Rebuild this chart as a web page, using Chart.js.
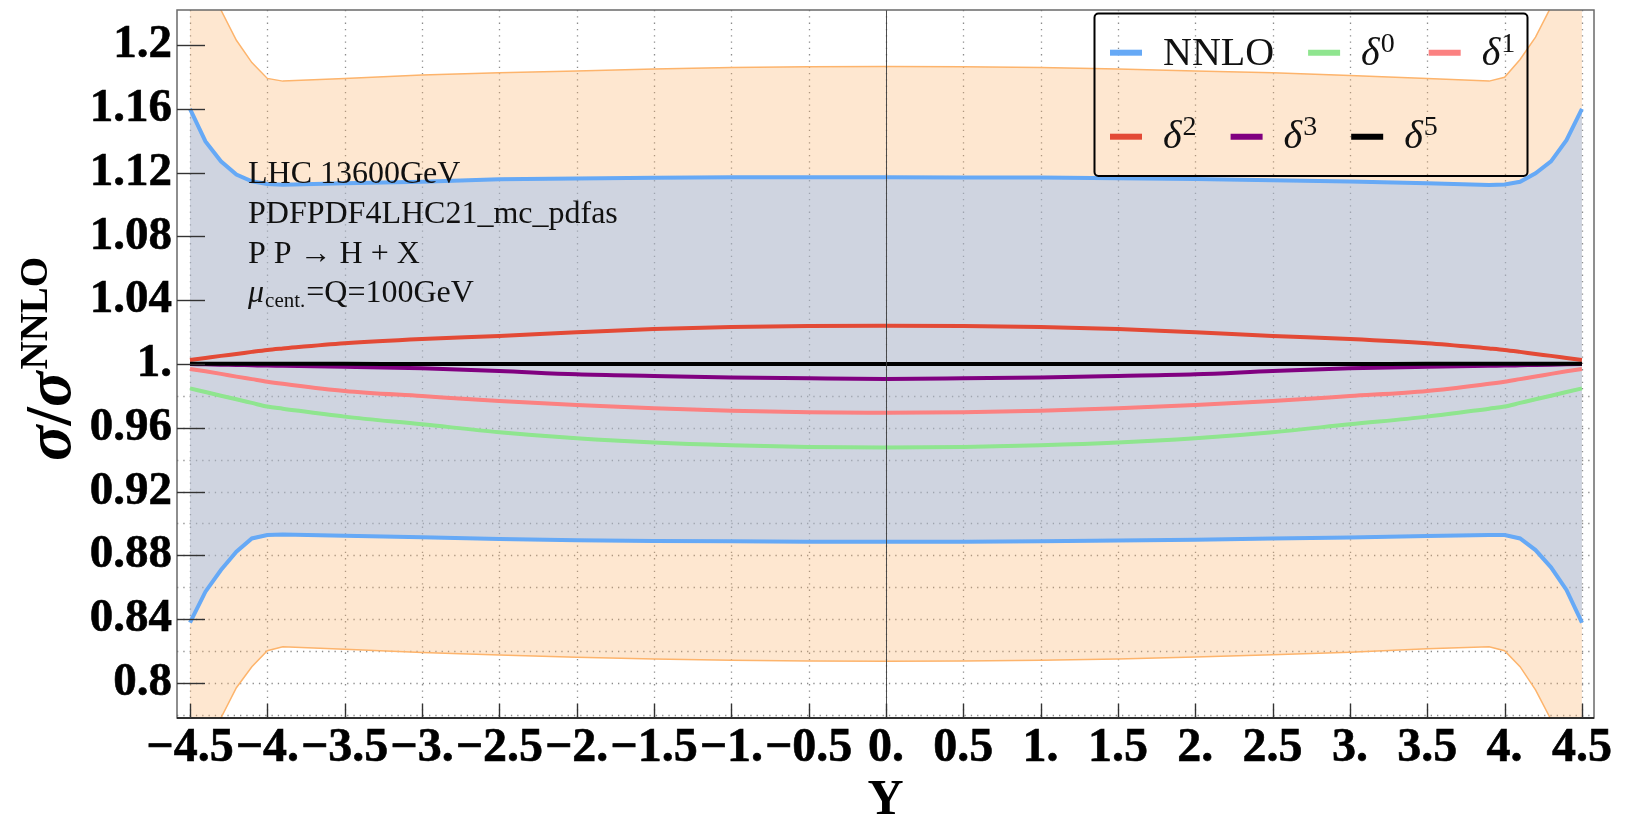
<!DOCTYPE html>
<html><head><meta charset="utf-8">
<script src="https://cdn.jsdelivr.net/npm/chart.js@4.4.0/dist/chart.umd.min.js"></script>
<style>html,body{margin:0;padding:0;background:#fff;overflow:hidden}</style>
</head><body>
<canvas id="c" width="1640" height="821"></canvas>
<script>
// ---------------- data ----------------
const rapidity = [-4.5,-4.4,-4.3,-4.2,-4.1,-4.0,-3.9,-3.5,-3.0,-2.5,-2.0,-1.5,-1.0,-0.5,0.0,0.5,1.0,1.5,2.0,2.5,3.0,3.5,3.9,4.0,4.1,4.2,4.3,4.4,4.5];
const scaleBandUp   = [1.280,1.248,1.222,1.203,1.189,1.1791,1.1774,1.1791,1.1812,1.1827,1.1837,1.1850,1.1860,1.1864,1.1865,1.1864,1.1860,1.1850,1.1838,1.1826,1.1810,1.1790,1.1774,1.1798,1.191,1.205,1.224,1.250,1.280];
const scaleBandDown = [0.720,0.752,0.778,0.797,0.8101,0.8202,0.8227,0.8211,0.8190,0.8175,0.8161,0.8150,0.8142,0.8137,0.8136,0.8137,0.8142,0.8150,0.8162,0.8176,0.8192,0.8215,0.8227,0.8202,0.8102,0.7956,0.777,0.752,0.720];
const nnloUp   = [1.1600,1.1396,1.1271,1.1188,1.1146,1.1129,1.1124,1.1133,1.1143,1.1158,1.1164,1.1168,1.1171,1.1171,1.1171,1.1170,1.1169,1.1165,1.1160,1.1152,1.1145,1.1133,1.1122,1.1126,1.1143,1.1196,1.1271,1.1404,1.1600];
const nnloDown = [0.8378,0.8572,0.8708,0.8823,0.8906,0.8928,0.8930,0.8923,0.8913,0.8903,0.8894,0.8890,0.8888,0.8885,0.8885,0.8886,0.8889,0.8893,0.8898,0.8905,0.8912,0.8921,0.8928,0.8928,0.8906,0.8833,0.8725,0.8583,0.8378];
const nnloCentral = [1,1,1,1,1,1,1,1,1,1,1,1,1,1,1,1,1,1,1,1,1,1,1,1,1,1,1,1,1];
const delta0 = [0.9847,0.9824,0.9801,0.9779,0.9756,0.9733,0.9720,0.9670,0.9622,0.9572,0.9534,0.9507,0.9490,0.9480,0.9477,0.9480,0.9490,0.9507,0.9534,0.9572,0.9622,0.9670,0.9720,0.9733,0.9756,0.9779,0.9801,0.9824,0.9847];
const delta1 = [0.9969,0.9954,0.9938,0.9921,0.9905,0.9889,0.9876,0.9831,0.9799,0.9768,0.9743,0.9722,0.9707,0.9697,0.9695,0.9697,0.9707,0.9722,0.9743,0.9768,0.9799,0.9831,0.9876,0.9889,0.9905,0.9921,0.9938,0.9954,0.9969];
const delta2 = [1.0025,1.0038,1.0051,1.0063,1.0076,1.0088,1.0097,1.0130,1.0157,1.0176,1.0199,1.0219,1.0232,1.0238,1.0240,1.0238,1.0232,1.0219,1.0199,1.0176,1.0157,1.0130,1.0097,1.0088,1.0076,1.0063,1.0051,1.0038,1.0025];
const delta3 = [1.0000,0.9998,0.9996,0.9994,0.9992,0.9990,0.9989,0.9983,0.9973,0.9956,0.9935,0.9925,0.9916,0.9910,0.9906,0.9910,0.9916,0.9925,0.9935,0.9956,0.9973,0.9983,0.9989,0.9990,0.9992,0.9994,0.9996,0.9998,1.0000];
const delta5 = [1.0002,1.0002,1.0002,1.0001,1.0001,1.0001,1.0001,1.0001,1.0000,1.0000,1.0000,1.0000,1.0000,1.0000,1.0000,1.0000,1.0000,1.0000,1.0000,1.0000,1.0000,1.0001,1.0001,1.0001,1.0001,1.0001,1.0002,1.0002,1.0002];

const xTickValues = [-4.5,-4,-3.5,-3,-2.5,-2,-1.5,-1,-0.5,0,0.5,1,1.5,2,2.5,3,3.5,4,4.5];
const xTickLabels = ['\u22124.5','\u22124.','\u22123.5','\u22123.','\u22122.5','\u22122.','\u22121.5','\u22121.','\u22120.5','0.','0.5','1.','1.5','2.','2.5','3.','3.5','4.','4.5'];
const yTickValues = [0.8,0.84,0.88,0.92,0.96,1.0,1.04,1.08,1.12,1.16,1.2];
const yTickLabels = ['0.8','0.84','0.88','0.92','0.96','1.','1.04','1.08','1.12','1.16','1.2'];

const legendNames  = ['NNLO','\u03b4^0','\u03b4^1','\u03b4^2','\u03b4^3','\u03b4^5'];
const legendColors = ['#66a9f6','#8fe58f','#fb8181','#e34a36','#800080','#000000'];
const infoLines = ['LHC 13600GeV','PDFPDF4LHC21_mc_pdfas','P P \u2192 H + X'];

// ---------------- chart ----------------
const SERIF = "'Liberation Serif','Times New Roman',serif";
const pts = arr => rapidity.map((x,i)=>({x:x,y:arr[i]}));

const decor = {
  id:'decor',
  beforeDatasetsDraw(chart){
    const {ctx, chartArea:a, scales:{x,y}} = chart;
    ctx.save();
    ctx.strokeStyle='rgba(120,120,120,0.85)'; ctx.lineWidth=1.3; ctx.setLineDash([1.3,5]);
    x.ticks.forEach(t=>{
      const px=Math.round(x.getPixelForValue(t.value))+0.5;
      ctx.beginPath(); ctx.moveTo(px,a.top); ctx.lineTo(px,a.bottom); ctx.stroke();
    });
    y.ticks.forEach(t=>{
      if (t.value<=0.981){
        const py=Math.round(y.getPixelForValue(t.value))+0.5;
        ctx.beginPath(); ctx.moveTo(a.left,py); ctx.lineTo(a.right,py); ctx.stroke();
      }
    });
    ctx.restore();
  },
  afterDatasetsDraw(chart){
    const {ctx, chartArea:a, scales:{x,y}} = chart;
    ctx.save();
    // vertical axis at Y=0
    const x0=Math.round(x.getPixelForValue(0))+0.5;
    ctx.strokeStyle='rgba(60,60,60,0.9)'; ctx.lineWidth=1;
    ctx.beginPath(); ctx.moveTo(x0,a.top); ctx.lineTo(x0,a.bottom); ctx.stroke();
    // frame
    ctx.strokeStyle='#6a6a6a'; ctx.lineWidth=1.5;
    ctx.strokeRect(a.left,a.top,a.right-a.left,a.bottom-a.top);
    ctx.strokeStyle='#111'; ctx.beginPath(); ctx.moveTo(a.left,a.bottom); ctx.lineTo(a.right,a.bottom); ctx.stroke();
    // tick marks (inside)
    ctx.strokeStyle='#333'; ctx.lineWidth=1.4;
    yTickValues.forEach(v=>{const py=Math.round(y.getPixelForValue(v))+0.5;
      ctx.beginPath(); ctx.moveTo(a.left,py); ctx.lineTo(a.left+28,py); ctx.stroke();});
    xTickValues.forEach(v=>{const px=Math.round(x.getPixelForValue(v))+0.5;
      ctx.beginPath(); ctx.moveTo(px,a.bottom); ctx.lineTo(px,a.bottom-14); ctx.stroke();});

    // info text
    ctx.fillStyle='#111'; ctx.textBaseline='alphabetic'; ctx.textAlign='left';
    ctx.font='32px '+SERIF;
    const bl=[183,222.7,263,301.7];
    infoLines.forEach((s,i)=>ctx.fillText(s,248,bl[i]));
    ctx.font='italic 32px '+SERIF; ctx.fillText('\u03bc',248,bl[3]);
    let w=ctx.measureText('\u03bc').width;
    ctx.font='21px '+SERIF; ctx.fillText('cent.',248+w+1,bl[3]+5);
    let w2=ctx.measureText('cent.').width;
    ctx.font='32px '+SERIF; ctx.fillText('=Q=100GeV',248+w+1+w2+1,bl[3]);

    // legend
    ctx.lineWidth=2; ctx.strokeStyle='#000';
    ctx.beginPath(); ctx.roundRect(1094.5,13.5,433,162.5,4); ctx.stroke();
    const rows=[[0,1,2],[3,4,5]], rowBase=[65,148], rowMid=[52.7,136.7];
    rows.forEach((r,ri)=>{
      let sx=1110;
      r.forEach(k=>{
        ctx.strokeStyle=legendColors[k]; ctx.lineWidth=6; ctx.lineCap='butt';
        ctx.beginPath(); ctx.moveTo(sx,rowMid[ri]); ctx.lineTo(sx+32,rowMid[ri]); ctx.stroke();
        let tx=sx+32+21;
        const parts=legendNames[k].split('^');
        ctx.fillStyle='#111';
        if(parts.length===1){ ctx.font='40px '+SERIF; ctx.fillText(parts[0],tx,rowBase[ri]); tx+=ctx.measureText(parts[0]).width; }
        else { ctx.font='italic 40px '+SERIF; ctx.fillText(parts[0],tx,rowBase[ri]); tx+=ctx.measureText(parts[0]).width+1;
               ctx.font='28px '+SERIF; ctx.fillText(parts[1],tx,rowBase[ri]-13); tx+=ctx.measureText(parts[1]).width; }
        sx=tx+34;
      });
    });

    // y axis title  sigma/sigma^NNLO (rotated)
    ctx.save();
    ctx.translate(70,461); ctx.rotate(-Math.PI/2);
    ctx.fillStyle='#000';
    let p=0;
    ctx.font='italic bold 66px '+SERIF; ctx.fillText('\u03c3',p,0); p+=ctx.measureText('\u03c3').width;
    ctx.font='bold 66px '+SERIF; ctx.fillText('/',p,0); p+=ctx.measureText('/').width;
    ctx.font='italic bold 66px '+SERIF; ctx.fillText('\u03c3',p,0); p+=ctx.measureText('\u03c3').width+2;
    ctx.font='bold 39px '+SERIF; ctx.fillText('NNLO',p,-23);
    ctx.restore();
    ctx.restore();
  }
};

const lineDs = (label,arr,color,width,order,extra)=>Object.assign({
  label, data:pts(arr), borderColor:color, borderWidth:width, pointRadius:0,
  fill:false, order, tension:0
}, extra||{});

new Chart(document.getElementById('c'),{
  type:'line',
  data:{datasets:[
    lineDs('scale up',scaleBandUp,'#fdb46c',1.5,100,{fill:'+1',backgroundColor:'rgba(252,175,100,0.30)'}),
    lineDs('scale down',scaleBandDown,'#fdb46c',1.5,99),
    lineDs('NNLO up',nnloUp,'#66a9f6',4,98,{fill:'+1',backgroundColor:'rgba(137,186,248,0.40)'}),
    lineDs('NNLO down',nnloDown,'#66a9f6',4,97),
    lineDs('NNLO',nnloCentral,'#66a9f6',4,6),
    lineDs('\u03b40',delta0,'#8fe58f',4,5,{cubicInterpolationMode:'monotone'}),
    lineDs('\u03b41',delta1,'#fb8181',4,4,{cubicInterpolationMode:'monotone'}),
    lineDs('\u03b42',delta2,'#e34a36',4,3,{cubicInterpolationMode:'monotone'}),
    lineDs('\u03b43',delta3,'#800080',4,2,{cubicInterpolationMode:'monotone'}),
    lineDs('\u03b45',delta5,'#000000',4,1,{cubicInterpolationMode:'monotone'})
  ]},
  options:{
    responsive:false, animation:false, devicePixelRatio:1,
    layout:{padding:{top:10,right:46,left:0,bottom:0}},
    plugins:{legend:{display:false},tooltip:{enabled:false}},
    scales:{
      x:{type:'linear',min:-4.584,max:4.578,
        afterFit:s=>{s.height=103;s.paddingLeft=0;s.paddingRight=0;},
        grid:{display:false,drawTicks:false},border:{display:false},
        ticks:{stepSize:0.5,includeBounds:false,autoSkip:false,maxRotation:0,minRotation:0,padding:2,color:'#000',
          textStrokeColor:'#000',textStrokeWidth:0.6,
          font:{family:SERIF,weight:'bold',size:48},
          callback:v=>{const i=xTickValues.findIndex(t=>Math.abs(t-v)<1e-6);return i<0?'':xTickLabels[i];}},
        title:{display:true,text:'Y',color:'#000',font:{family:SERIF,weight:'bold',size:50,lineHeight:0.8},padding:{top:0,bottom:0}}
      },
      y:{type:'linear',min:0.778,max:1.222,
        afterFit:s=>{s.width=177;s.paddingTop=0;s.paddingBottom=0;},
        grid:{display:false,drawTicks:false},border:{display:false},
        ticks:{stepSize:0.02,includeBounds:false,autoSkip:false,padding:5,color:'#000',
          textStrokeColor:'#000',textStrokeWidth:0.6,
          font:{family:SERIF,weight:'bold',size:47},
          callback:v=>{const i=yTickValues.findIndex(t=>Math.abs(t-v)<1e-6);return i<0?'':yTickLabels[i];}}
      }
    }
  },
  plugins:[decor]
});
</script>
</body></html>
